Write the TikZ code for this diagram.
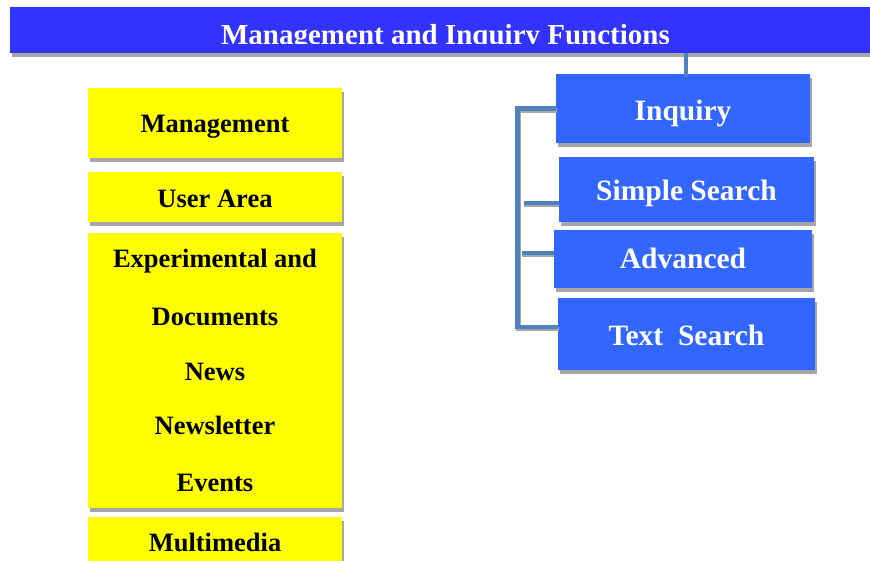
\documentclass[tikz,border=0pt]{standalone}
\usepackage{fontspec}
\setmainfont{Liberation Serif}
\usetikzlibrary{shadows}
\definecolor{titleblue}{RGB}{51,51,255}
\definecolor{boxblue}{RGB}{51,102,255}
\definecolor{linkblue}{RGB}{79,129,189}
\definecolor{shadowgray}{RGB}{166,166,166}
\definecolor{boxyellow}{RGB}{255,255,0}
\tikzset{
  box/.style={rectangle, inner sep=0pt, draw=none, anchor=center},
  myshadow/.style={drop shadow={shadow xshift=1.5pt, shadow yshift=-4pt, fill=shadowgray, opacity=1}},
  ybox/.style={box, fill=boxyellow, text=black, font=\fontsize{26.5}{28}\selectfont\bfseries, myshadow},
  bbox/.style={box, fill=boxblue, text=white, font=\fontsize{29.5}{31}\selectfont\bfseries, myshadow},
  ytext/.style={anchor=base, inner sep=0pt, text=black, font=\fontsize{26.5}{28}\selectfont\bfseries},
  link/.style={draw=linkblue, line width=4.5pt, line join=miter},
  linkshade/.style={draw=shadowgray, line width=4.5pt, line join=miter},
}
\begin{document}
\begin{tikzpicture}[x=1pt,y=-1pt]
\useasboundingbox (0,0) rectangle (870,561);
% title bar
\node[box, fill=titleblue, minimum width=860pt, minimum height=46pt, myshadow] (title) at (440,30) {};
\begin{scope}
  \clip (10,7) rectangle (870,43.5);
  \node[anchor=base, inner sep=0pt, text=white, font=\fontsize{29}{30}\selectfont\bfseries] (titletext) at (445.5,45) {Management and Inquiry Functions};
\end{scope}
% left column
\node[ybox, minimum width=254pt, minimum height=70pt, text height=20pt, text depth=1pt] (mgmt) at (215,123) {Management};
\node[ybox, minimum width=254pt, minimum height=50pt, text height=21pt, text depth=0pt] (user) at (215,197) {User Area};
\node[ybox, minimum width=254pt, minimum height=275pt] (exp) at (215,370.5) {};
\node[ytext] (t1) at (215,268) {Experimental and};
\node[ytext] (t2) at (215,325) {Documents};
\node[ytext] (t3) at (215,380) {News};
\node[ytext] (t4) at (215,434) {Newsletter};
\node[ytext] (t5) at (215,491) {Events};
\node[ybox, minimum width=254pt, minimum height=44pt, text height=25pt, text depth=0pt] (multi) at (215,539) {Multimedia};
% right column
\node[bbox, minimum width=254pt, minimum height=69pt, text height=24pt, text depth=0pt] (inq) at (683,108.5) {Inquiry};
\node[bbox, minimum width=255pt, minimum height=65pt, text height=22pt, text depth=0pt] (simp) at (686.5,189.5) {Simple Search};
\node[bbox, minimum width=258pt, minimum height=58pt, text height=19pt, text depth=0pt] (adv) at (683,259) {Advanced};
\node[bbox, minimum width=257pt, minimum height=72pt, text height=23pt, text depth=0pt] (txt) at (686.5,334) {Text\ \ Search};
% connectors
\coordinate (tx) at (686,0);
\coordinate (bx) at (517.5,0);
\draw[link] (tx |- title.south) -- ([yshift=-3pt]tx |- inq.north);
\draw[linkshade] ([xshift=1pt,yshift=-2pt]inq.west) -- ([xshift=1pt,yshift=-2pt]bx |- inq.west) -- ([xshift=1pt,yshift=5pt]bx |- txt.west) -- ([xshift=1pt,yshift=5pt]txt.west);
\draw[link] (inq.west) -- (bx |- inq.west) -- ([yshift=7pt]bx |- txt.west) -- ([yshift=7pt]txt.west);
\draw[linkshade] ([yshift=-15.5pt]simp.west) -- ++(-35,0);
\draw[link] ([yshift=-13.5pt]simp.west) -- ++(-35,0);
\draw[linkshade] ([yshift=4pt]adv.west) -- ++(-32,0);
\draw[link] ([yshift=6pt]adv.west) -- ++(-32,0);
\end{tikzpicture}
\end{document}
